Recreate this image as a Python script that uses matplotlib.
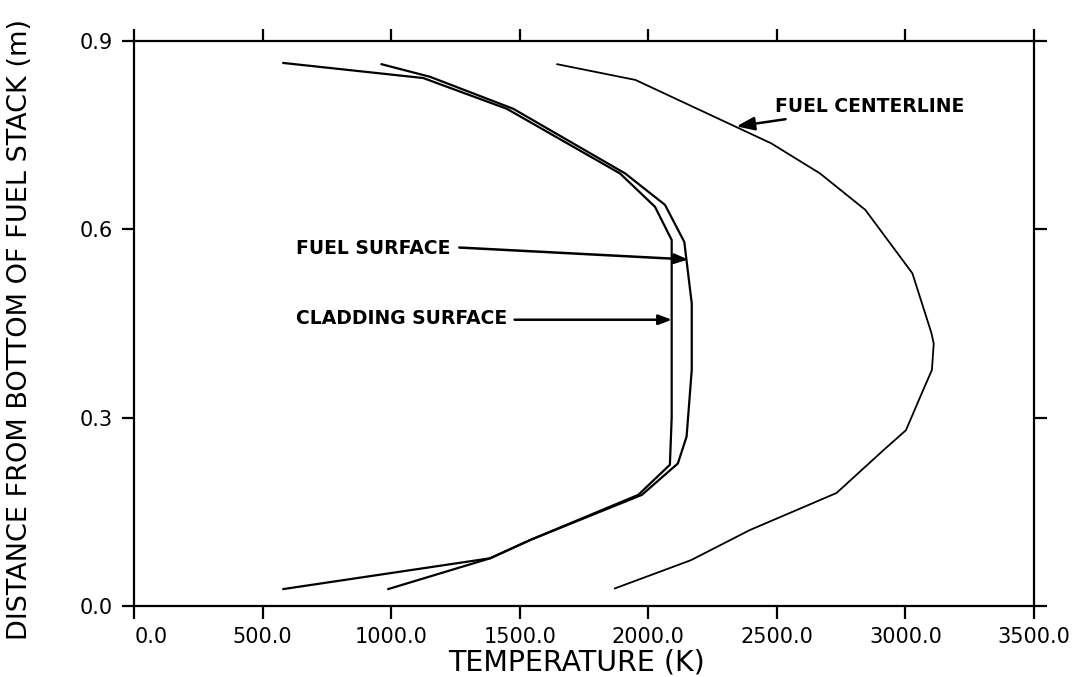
import matplotlib

matplotlib.use("Agg")
import matplotlib.pyplot as plt
import matplotlib.transforms as mtransforms

# temperatures (K) vs distance from bottom of fuel stack (m)
centerline_temp = [1870, 2166, 2395, 2732, 2914, 3002, 3069, 3103, 3110, 3101,
                   3027, 2844, 2668, 2478, 1950, 1646]
centerline_z = [0.028, 0.073, 0.121, 0.180, 0.248, 0.280, 0.344, 0.376, 0.418, 0.435,
                0.530, 0.631, 0.689, 0.737, 0.838, 0.863]

surface_temp = [989, 1385, 1540, 1975, 2115, 2149, 2169, 2169, 2140, 2065,
                1910, 1475, 1151, 963]
surface_z = [0.027, 0.076, 0.105, 0.177, 0.227, 0.270, 0.376, 0.482, 0.580, 0.639,
             0.689, 0.792, 0.843, 0.863]

clad_temp = [581, 1385, 1540, 1961, 2084, 2091, 2091, 2026, 1890, 1450, 1125, 581]
clad_z = [0.027, 0.076, 0.105, 0.177, 0.225, 0.300, 0.583, 0.636, 0.689, 0.792, 0.841, 0.865]

x_ticks = [0, 500, 1000, 1500, 2000, 2500, 3000, 3500]
y_ticks = [0.0, 0.3, 0.6, 0.9]

W, H = 1086, 677
fig = plt.figure(figsize=(W / 100, H / 100), dpi=100)
ax = fig.add_axes([134 / W, 1 - 606 / H, 900 / W, 565 / H])

lw = 1.6
ax.plot(centerline_temp, centerline_z, color="black", lw=1.3)
ax.plot(surface_temp, surface_z, color="black", lw=lw)
ax.plot(clad_temp, clad_z, color="black", lw=lw)

ax.set_xlim(0, 3500)
ax.set_ylim(0, 0.9)
ax.set_xticks(x_ticks)
ax.set_xticklabels([f"{v:.1f}" for v in x_ticks])
ax.set_yticks(y_ticks)
ax.set_yticklabels([f"{v:.1f}" for v in y_ticks])
ax.tick_params(direction="out", length=9, width=1.6, top=True, right=True,
               labeltop=False, labelright=False, labelsize=15, pad=6)
for sp in ax.spines.values():
    sp.set_linewidth(1.6)

# the "0.0" on the x axis sits a bit right of its tick in the original
first = ax.get_xticklabels()[0]
first.set_transform(first.get_transform()
                    + mtransforms.ScaledTranslation(0.17, 0, fig.dpi_scale_trans))

fig.text(20 / W, 1 - 330 / H, "DISTANCE FROM BOTTOM OF FUEL STACK (m)",
         rotation=90, ha="center", va="center", fontsize=19.5)
fig.text(577 / W, 1 - 663 / H, "TEMPERATURE (K)",
         ha="center", va="center", fontsize=20.5)

arrow = dict(arrowstyle="-|>,head_length=0.8,head_width=0.3",
             color="black", lw=1.8, shrinkA=0, shrinkB=0)
ax.annotate("FUEL CENTERLINE", xy=(2343, 0.764), xytext=(2492, 0.795),
            ha="left", va="center", fontsize=13.5, fontweight="bold",
            arrowprops=arrow)
ax.annotate("", xy=(2155, 0.552), xytext=(1265, 0.571), arrowprops=arrow)
ax.text(629, 0.569, "FUEL SURFACE", ha="left", va="center",
        fontsize=13.5, fontweight="bold")
ax.annotate("", xy=(2092, 0.456), xytext=(1480, 0.456), arrowprops=arrow)
ax.text(629, 0.458, "CLADDING SURFACE", ha="left", va="center",
        fontsize=13.5, fontweight="bold")

fig.savefig("out.png", dpi=100)
